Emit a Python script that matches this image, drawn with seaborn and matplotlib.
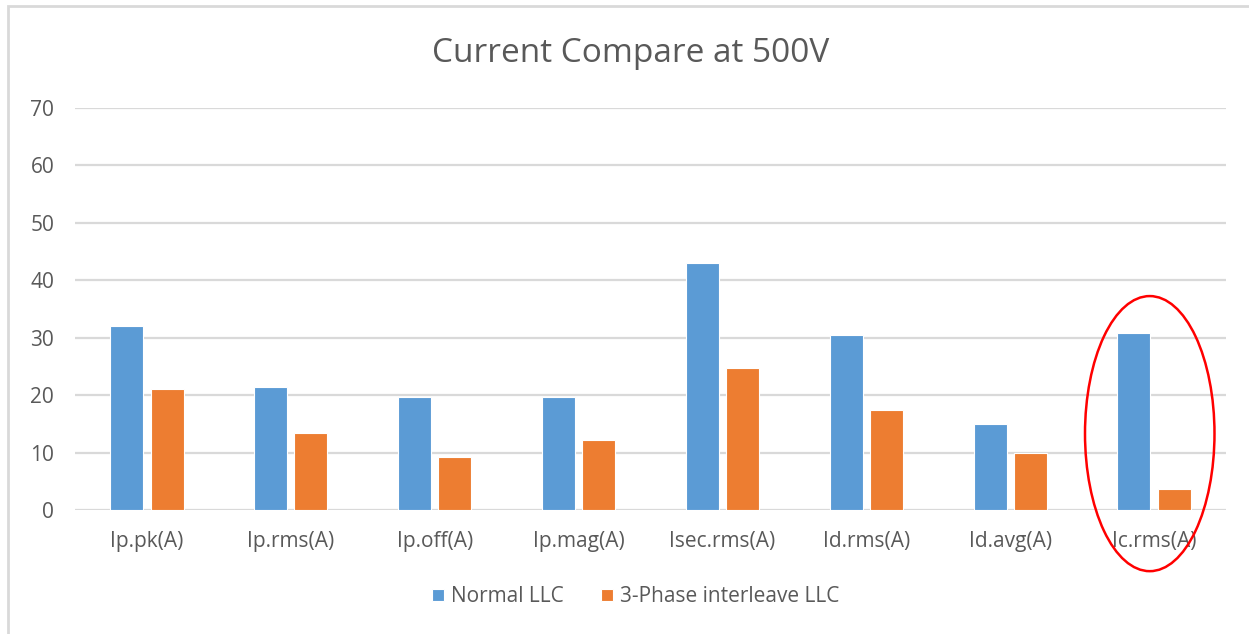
import matplotlib
matplotlib.use("Agg")
import matplotlib.pyplot as plt
from matplotlib.patches import Ellipse, Rectangle
import pandas as pd
import seaborn as sns

# Measured currents per quantity
categories = ["Ip.pk(A)", "Ip.rms(A)", "Ip.off(A)", "Ip.mag(A)",
              "Isec.rms(A)", "Id.rms(A)", "Id.avg(A)", "Ic.rms(A)"]
normal_llc = [32.0, 21.4, 19.6, 19.6, 43.0, 30.4, 14.9, 30.9]
interleave_llc = [21.0, 13.4, 9.2, 12.2, 24.7, 17.5, 9.9, 3.7]
series_names = ["Normal LLC", "3-Phase interleave LLC"]
y_ticks = [0, 10, 20, 30, 40, 50, 60, 70]

df = pd.DataFrame({
    "category": categories * 2,
    "value": normal_llc + interleave_llc,
    "series": [series_names[0]] * len(categories) + [series_names[1]] * len(categories),
})

sns.set_theme(style="white")
plt.rcParams["font.family"] = ["Open Sans", "DejaVu Sans"]

TEXT = "#595959"
GRID = "#D9D9D9"

fig = plt.figure(figsize=(12.49, 6.34), dpi=100)
ax = fig.add_axes([75 / 1249, 1 - 510 / 634, (1226 - 75) / 1249, (510 - 108) / 634])

sns.barplot(data=df, x="category", y="value", hue="series",
            hue_order=series_names, order=categories,
            palette=["#5B9BD5", "#ED7D31"], saturation=1,
            width=0.56, gap=0.18,
            edgecolor="white", linewidth=0.8, ax=ax, legend=True)

ax.set_ylim(0, 70)
ax.set_xlim(-0.5, len(categories) - 0.5)
ax.set_yticks(y_ticks)
ax.yaxis.grid(True, color=GRID, linewidth=1.6)
ax.set_axisbelow(True)
for s in ax.spines.values():
    s.set_visible(False)
ax.set_xlabel("")
ax.set_ylabel("")
ax.tick_params(axis="y", length=0, pad=15, labelsize=15, labelcolor=TEXT)
ax.tick_params(axis="x", length=0, pad=15, labelsize=15, labelcolor=TEXT)

fig.text(0.5 + 6 / 1249, 1 - 53 / 634, "Current Compare at 500V",
         ha="center", va="center", fontsize=24, color=TEXT)

handles, labels = ax.get_legend_handles_labels()
ax.get_legend().remove()
fig.legend(handles, labels, loc="center", bbox_to_anchor=(636 / 1249, 1 - 597 / 634),
           ncol=2, frameon=False, fontsize=15, labelcolor=TEXT,
           handlelength=0.55, handleheight=0.55, handletextpad=0.35,
           columnspacing=1.8)

# Highlight around the Ic.rms comparison
idx = categories.index("Ic.rms(A)")
ax.add_patch(Ellipse((idx - 0.03, 13.3), width=0.9, height=47.9, fill=False,
                     edgecolor="#FF0000", linewidth=1.8, clip_on=False, zorder=5))

# Chart frame
fig.patches.append(Rectangle((8 / 1249, -0.05), 1.2, 1 - 6 / 634 + 0.05,
                             transform=fig.transFigure, fill=False,
                             edgecolor=GRID, linewidth=2.0))

fig.savefig("out.png", dpi=100)
